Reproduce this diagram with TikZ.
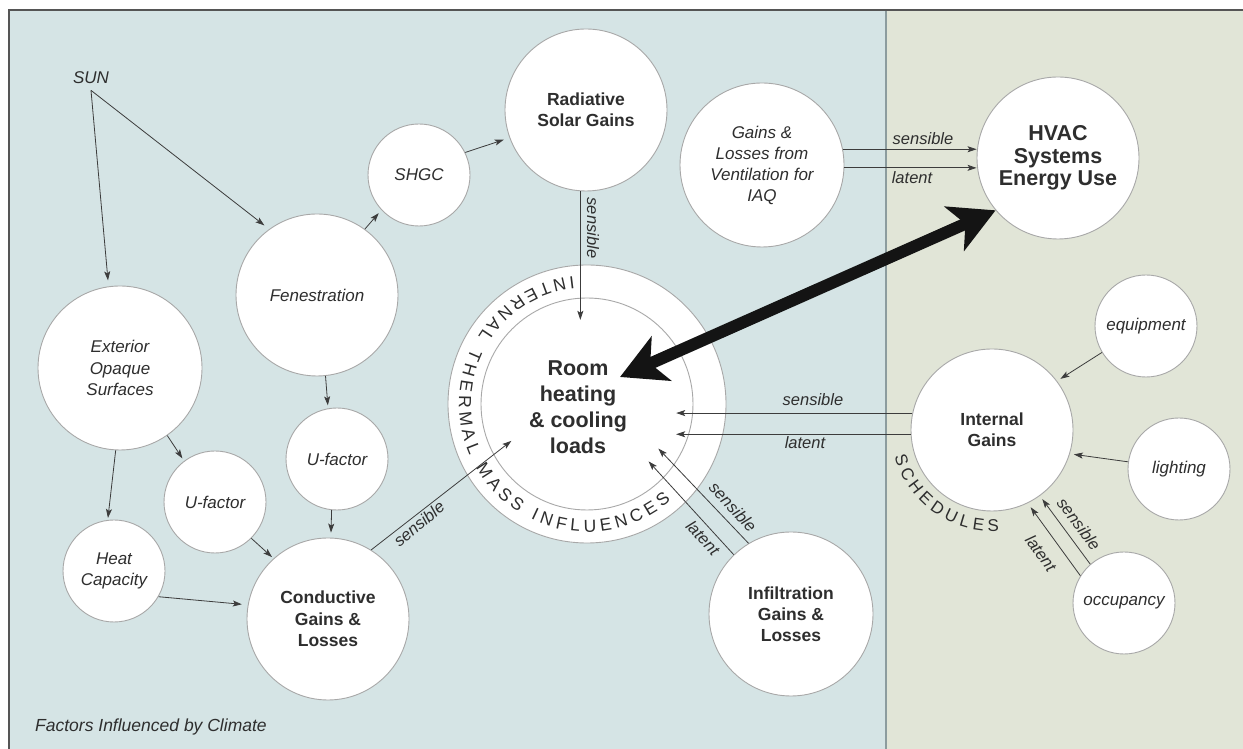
\documentclass[tikz,border=0pt]{standalone}
\usepackage{fontspec}
\setmainfont{Liberation Sans}
\usetikzlibrary{arrows.meta,decorations.text,calc}
\definecolor{leftbg}{HTML}{D5E4E5}
\definecolor{rightbg}{HTML}{E1E5D7}
\definecolor{framec}{HTML}{555555}
\definecolor{divc}{HTML}{8C9C9E}
\definecolor{txt}{HTML}{2E2E2E}
\definecolor{bubline}{HTML}{A8A8A8}
\definecolor{linec}{HTML}{3C3C3C}
\definecolor{bigc}{HTML}{141414}
\newcommand\ringfont{\fontsize{17.5}{17.5}\selectfont}
\newcommand\schedfont{\fontsize{17}{17}\selectfont}
\tikzset{
  bub/.style={circle, draw=bubline, fill=white, line width=0.9pt, inner sep=0pt, align=center, text=txt},
  itx/.style={font=\itshape\fontsize{17}{21}\selectfont},
  bfx/.style={font=\bfseries\fontsize{17.5}{21}\selectfont},
  bigx/.style={font=\bfseries\fontsize{21.5}{22.5}\selectfont},
  conn/.style={draw=linec, line width=0.8pt, -{Stealth[length=9pt,width=6pt,inset=2pt]}},
  lbl/.style={font=\itshape\fontsize{16.5}{20}\selectfont, text=txt, inner sep=0pt},
  bigarrow/.style={draw=bigc, line width=12pt, {Stealth[length=45pt,width=48pt,inset=12pt]}-{Stealth[length=45pt,width=48pt,inset=12pt]}},
}
\begin{document}
\begin{tikzpicture}[x=1pt,y=1pt]
\useasboundingbox (0,0) rectangle (1243,749);
% backgrounds
\fill[white] (0,0) rectangle (1243,749);
\fill[leftbg] (9,0) rectangle (886,739);
\fill[rightbg] (886,0) rectangle (1243,739);
\draw[divc, line width=1.2pt] (886,0) -- (886,739);
\draw[framec, line width=1.5pt] (9,0) -- (9,739) -- (1243,739);

% nodes
\node[itx, text=txt, anchor=base, inner sep=6pt] (sun) at (91,665) {SUN};
\node[bub, itx, minimum size=102pt] (shgc) at (419,574) {SHGC};
\node[bub, bfx, minimum size=162pt] (rad) at (586,639) {Radiative\\Solar Gains};
\node[bub, itx, minimum size=164pt] (vent) at (762,584) {Gains \&\\Losses from\\Ventilation for\\IAQ};
\node[bub, bigx, minimum size=162pt] (hvac) at (1058,591) {HVAC\\Systems\\Energy Use};
\node[bub, itx, minimum size=162pt] (fen) at (317,454) {Fenestration};
\node[bub, itx, font=\itshape\fontsize{17}{21.5}\selectfont, minimum size=164pt] (ext) at (120,381) {Exterior\\Opaque\\Surfaces};
\node[bub, itx, minimum size=102pt] (ul) at (215,247) {U-factor};
\node[bub, itx, minimum size=102pt] (ur) at (337,290) {U-factor};
\node[bub, itx, minimum size=102pt] (hc) at (114,178) {Heat\\Capacity};
\node[bub, bfx, font=\bfseries\fontsize{17.5}{21.5}\selectfont, minimum size=162pt] (cond) at (328,130) {Conductive\\Gains \&\\Losses};
\node[bub, minimum size=278pt] (room) at (587,345) {};
\node[circle, draw=bubline, line width=0.9pt, minimum size=212pt, inner sep=0pt] (roomin) at (587,345) {};
\node[circle, minimum size=168pt, inner sep=0pt] (core) at (587,345) {};
\node[align=center, text=txt, font=\bfseries\fontsize{21.5}{26}\selectfont] (roomtxt) at (578,342) {Room\\heating\\\& cooling\\loads};
\node[bub, bfx, minimum size=164pt] (infil) at (791,135) {Infiltration\\Gains \&\\Losses};
\node[bub, bfx, minimum size=162pt] (ig) at (992,319) {Internal\\Gains};
\node[bub, itx, minimum size=102pt] (equip) at (1146,423) {equipment};
\node[bub, itx, minimum size=102pt] (light) at (1179,280) {lighting};
\node[bub, itx, minimum size=102pt] (occ) at (1124,146) {occupancy};

% ring texts
\path[decorate, decoration={text along path, text={|\ringfont|INTERNAL THERMAL MASS INFLUENCES}, text align={fit to path}, text color=txt}]
  ([shift={(96:128)}]room.center) arc[start angle=96, end angle=311, radius=128];
\path[decorate, decoration={text along path, text={|\schedfont|SCHEDULES}, text align={fit to path}, text color=txt}]
  ([shift={(195:101)}]ig.center) arc[start angle=195, end angle=274, radius=101];

% connectors
\draw[conn, shorten >=6pt] (sun.south) -- (ext.98);
\draw[conn, shorten >=6pt] (sun.south) -- (fen.126);
\draw[conn, shorten >=4pt] (fen.54) -- (shgc.223);
\draw[conn, shorten >=6pt] (shgc.26) -- (rad.200);
\draw[conn] (rad.266) -- (rad.266 |- core.north);
\draw[conn] (vent.11) -- (vent.11 -| hvac.west);
\draw[conn] (vent.-2) -- (vent.-2 -| hvac.west);
\draw[conn, shorten >=3pt] (fen.-84) -- (ur.100);
\draw[conn, shorten >=2pt] (ext.-93) -- (hc.97);
\draw[conn, shorten >=3pt] (ext.-55) -- (ul.127);
\draw[conn, shorten >=5pt] (ur.-96) -- (cond.88);
\draw[conn, shorten >=2pt] (ul.-45) -- (cond.132);
\draw[conn, shorten >=6pt] (hc.-30) -- (cond.170);
\draw[conn] (cond.58) -- (core.206);
\draw[conn] (infil.121) -- (core.-32);
\draw[conn] (infil.134) -- (core.-43.5);
\draw[conn, shorten >=5pt] (ig.168) -- (ig.168 -| core.east);
\draw[conn, shorten >=5pt] (ig.183) -- (ig.183 -| core.east);
\draw[conn, shorten >=4pt] (equip.211) -- (ig.37);
\draw[conn, shorten >=4pt] (light.172) -- (ig.-17);
\draw[conn, shorten >=4pt] (occ.131) -- (ig.-54);
\draw[conn, shorten >=5pt] (occ.148) -- (ig.-64);

% big double arrow
\coordinate (bigL) at (620,372);
\draw[bigarrow] (bigL) -- (hvac.220);

% labels
\node[lbl, rotate=-90] (lrad) at (593,521) {sensible};
\node[lbl] (lvs) at (923,610) {sensible};
\node[lbl] (lvl) at (912,571) {latent};
\node[lbl] (lis) at (813,349) {sensible};
\node[lbl] (lil) at (805,306) {latent};
\node[lbl, rotate=40] (lcs) at (419,225) {sensible};
\node[lbl, rotate=-47] (lfs) at (733,242) {sensible};
\node[lbl, rotate=-47] (lfl) at (703,211) {latent};
\node[lbl, rotate=-53] (los) at (1079,225) {sensible};
\node[lbl, rotate=-54] (lol) at (1041,196) {latent};

\node[lbl, font=\itshape\fontsize{17.5}{20}\selectfont, anchor=base west] (climate) at (35,17) {Factors Influenced by Climate};
\end{tikzpicture}
\end{document}
